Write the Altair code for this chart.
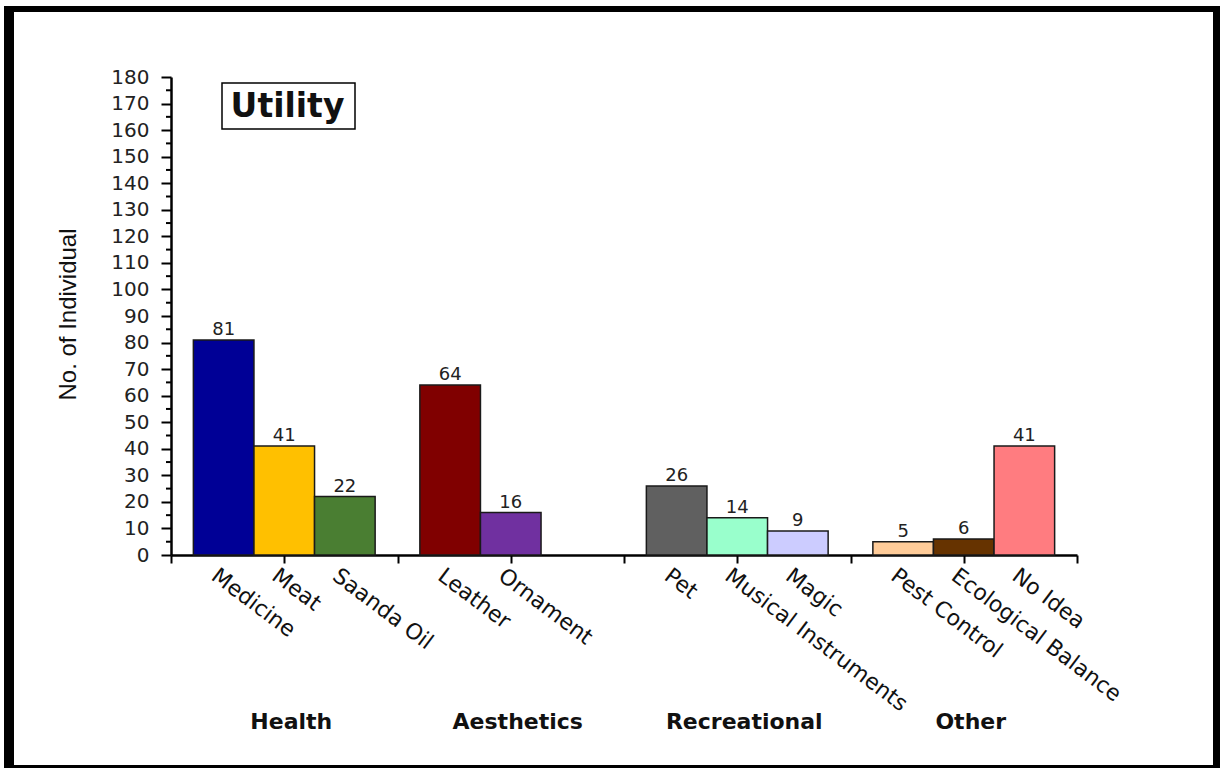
import altair as alt
import pandas as pd

# ---- data ----
categories = ["Medicine", "Meat", "Saanda Oil", "Leather", "Ornament", "Pet",
              "Musical Instruments", "Magic", "Pest Control", "Ecological Balance", "No Idea"]
values = [81, 41, 22, 64, 16, 26, 14, 9, 5, 6, 41]
group_of = ["Health", "Health", "Health", "Aesthetics", "Aesthetics",
            "Recreational", "Recreational", "Recreational", "Other", "Other", "Other"]
group_names = ["Health", "Aesthetics", "Recreational", "Other"]
colors = ["#000096", "#FFC000", "#4A7E32", "#800000", "#7030A0", "#606060",
          "#99FFCC", "#CCCCFF", "#FFCC99", "#663300", "#FF7C80"]
y_ticks = list(range(0, 181, 10))
y_minor = list(range(5, 180, 10))
x_ticks = list(range(0, 9))

# ---- layout constants ----
W, H = 906, 478
BAR_W = 0.535  # bar width in x-axis units (3 slots per group)

slot = []
seen = {}
for g in group_of:
    seen[g] = seen.get(g, -1) + 1
    slot.append(seen[g])

df = pd.DataFrame({
    "category": categories,
    "value": values,
    "group": group_of,
    "gidx": [group_names.index(g) for g in group_of],
    "slot": slot,
})
gdf = pd.DataFrame({"group": group_names, "gidx": list(range(len(group_names)))})
minor_df = pd.DataFrame({"v": y_minor})

yscale = alt.Scale(domain=[0, 180], nice=False, zero=True)
xscale = alt.Scale(domain=[0, 8], nice=False, zero=False)

x_axis = alt.Axis(values=x_ticks, labels=False, title=None, grid=False,
                  tickSize=8, tickWidth=2, tickColor="black",
                  domainColor="black", domainWidth=2.5)
y_axis = alt.Axis(values=y_ticks, grid=False, tickSize=10, tickWidth=2,
                  tickColor="black", domainColor="black", domainWidth=2.5,
                  labelFont="DejaVu Sans", labelFontSize=20, labelColor="#222",
                  labelPadding=12,
                  title="No. of Individual", titleFont="Liberation Sans",
                  titleFontSize=24, titleFontWeight="normal", titleColor="#111",
                  titleX=-103, titleY=H / 2 - 2, titleAngle=-90,
                  titleAlign="center", titleBaseline="middle")

base = alt.Chart(df).transform_calculate(
    xc=f"1 + 2*datum.gidx + (datum.slot - 1)*{BAR_W}",
    x0=f"1 + 2*datum.gidx + (datum.slot - 1)*{BAR_W} - {BAR_W/2}",
    x1=f"1 + 2*datum.gidx + (datum.slot - 1)*{BAR_W} + {BAR_W/2}",
)

bars = base.mark_rect(stroke="#1a1a1a", strokeWidth=1.5).encode(
    x=alt.X("x0:Q", scale=xscale, axis=x_axis),
    x2="x1:Q",
    y=alt.Y("value:Q", scale=yscale, axis=y_axis),
    y2=alt.datum(0),
    color=alt.Color("category:N", scale=alt.Scale(domain=categories, range=colors), legend=None),
)

vals = base.mark_text(font="DejaVu Sans", fontSize=18, color="#222", dy=-5,
                      baseline="alphabetic", align="center").encode(
    x=alt.X("xc:Q", scale=xscale, axis=x_axis),
    y=alt.Y("value:Q", scale=yscale, axis=y_axis),
    text="value:Q",
)

cat_labels = base.mark_text(font="DejaVu Sans", fontSize=22, color="#111", angle=37,
                            align="left", baseline="top", dx=-2, dy=3).encode(
    x=alt.X("xc:Q", scale=xscale, axis=x_axis),
    y=alt.value(H + 9),
    text="category:N",
)

grp_labels = alt.Chart(gdf).transform_calculate(
    gx="1 + 2*datum.gidx"
).mark_text(font="DejaVu Sans", fontSize=22, fontWeight="bold", color="#111",
            align="center", baseline="middle", dx=7).encode(
    x=alt.X("gx:Q", scale=xscale, axis=x_axis),
    y=alt.value(645),
    text="group:N",
)

minor = alt.Chart(minor_df).mark_rule(color="black", strokeWidth=2).encode(
    y=alt.Y("v:Q", scale=yscale, axis=y_axis),
    x=alt.value(-5),
    x2=alt.value(0),
)

one = alt.Data(values=[{"a": 1}])
title_box = alt.Chart(one).mark_rect(fill="white", stroke="black", strokeWidth=1.5).encode(
    x=alt.value(51), x2=alt.value(184), y=alt.value(6), y2=alt.value(52))
title_txt = alt.Chart(one).mark_text(text="Utility", font="DejaVu Sans", fontSize=33,
                                     fontWeight="bold", color="#111",
                                     align="center", baseline="middle").encode(
    x=alt.value(116.5), y=alt.value(30))

frame_parts = []
for (xa, xb, ya, yb) in [(-167, 1049, -71, -65),   # top
                         (-167, -157, -71, 691),   # left
                         (1042, 1049, -71, 691),   # right
                         (-167, 1049, 688, 691)]:  # bottom
    frame_parts.append(alt.Chart(one).mark_rect(color="black").encode(
        x=alt.value(xa), x2=alt.value(xb), y=alt.value(ya), y2=alt.value(yb)))

chart = alt.layer(bars, minor, vals, cat_labels, grp_labels, title_box, title_txt,
                  *frame_parts).properties(
    width=W, height=H, autosize="none",
    padding={"left": 171, "top": 77, "right": 143, "bottom": 213},
    background="white",
).configure_view(stroke=None)

chart.save("out.html", embed_options={"renderer": "svg", "actions": False})
